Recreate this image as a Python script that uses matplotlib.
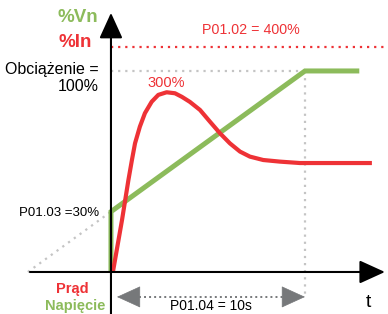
import matplotlib
matplotlib.use("Agg")
import matplotlib.pyplot as plt

# schematic units: x in seconds, y in % of load (100 = "Obciazenie = 100%")
ramp_t = [0, 0, 10, 12.8]
ramp_v = [0, 30, 100, 100]
start_level = 30
ramp_time = 10
limit_level = 112  # drawn position of the P01.02 = 400% line

current_t = [0.10, 0.57, 0.90, 1.08, 1.24, 1.49, 1.75, 2.10, 2.44, 2.87,
             3.30, 3.66, 4.07, 4.59, 5.10, 5.62, 6.13, 6.65, 7.16, 7.85,
             8.71, 9.74, 13.45]
current_v = [0, 25.9, 45.8, 55.7, 64.0, 72.3, 79.0, 84.7, 88.1, 89.4,
             88.9, 87.1, 84.6, 80.6, 74.8, 69.0, 64.0, 59.9, 57.4, 55.7,
             54.9, 54.2, 54.2]

RED = "#ee3236"
GREEN = "#8cbb5b"
GREY = "#c4c4c4"
DARK = "#76787a"

plt.rcParams["font.family"] = ["Liberation Sans", "DejaVu Sans"]

fig = plt.figure(figsize=(3.88, 3.14), dpi=100)
ax = fig.add_axes([0, 0, 1, 1])
ax.set_xlim(-5.72, 14.28)
ax.set_ylim(-20.9, 135.3)
ax.axis("off")

dots = (0, (1, 2.2))
# helper lines
ax.plot([0, 14.28], [limit_level, limit_level], color=RED, lw=1.6, ls=dots)
ax.plot([0, ramp_time], [100, 100], color=GREY, lw=1.6, ls=dots)
ax.plot([ramp_time, ramp_time], [100, -12.4], color=GREY, lw=1.6, ls=dots)
slope = (100 - start_level) / ramp_time
ax.plot([-start_level / slope, 0], [0, start_level], color=GREY, lw=1.6, ls=dots)

# axes with arrows
head = dict(arrowstyle="-|>,head_length=15.8,head_width=7.2", mutation_scale=1,
            color="black", lw=1.5, shrinkA=0, shrinkB=0)
ax.annotate("", xy=(14.12, 0), xytext=(-4.18, 0), arrowprops=head)
ax.annotate("", xy=(0, 128.9), xytext=(0, -21), arrowprops=head)

# curves
ax.plot(ramp_t, ramp_v, color=GREEN, lw=3.6, solid_capstyle="butt",
        solid_joinstyle="miter")
ax.plot(current_t, current_v, color=RED, lw=3.0, solid_capstyle="butt",
        solid_joinstyle="round")

# ramp time dimension
ax.plot([1.44, 8.87], [-12.4, -12.4], color=DARK, lw=1.4, ls=(0, (1, 1.6)))
tri = dict(arrowstyle="-|>,head_length=15.8,head_width=7.2", mutation_scale=1,
           color=DARK, lw=0.5, shrinkA=0, shrinkB=0)
ax.annotate("", xy=(0.31, -12.4), xytext=(1.44, -12.4), arrowprops=tri)
ax.annotate("", xy=(10.0, -12.4), xytext=(8.87, -12.4), arrowprops=tri)

# texts
ax.text(-1.70, 126.6, "%Vn", color=GREEN, fontsize=13.5, fontweight="bold",
        ha="center", va="center")
ax.text(-1.86, 114.2, "%In", color=RED, fontsize=13.5, fontweight="bold",
        ha="center", va="center")
ax.text(-0.62, 98.5, "Obciążenie =", fontsize=11.5, ha="right", va="baseline")
ax.text(-0.62, 90.2, "100%", fontsize=11.5, ha="right", va="baseline")
ax.text(2.84, 91.9, "300%", color=RED, fontsize=10.5, ha="center", va="baseline")
ax.text(7.22, 118.2, "P01.02 = 400%", color=RED, fontsize=10.3, ha="center",
        va="baseline")
ax.text(-0.62, 27.9, "P01.03 =30%", fontsize=9.5, ha="right", va="baseline")
ax.text(-1.97, -10.3, "Prąd", color=RED, fontsize=10.5, fontweight="bold",
        ha="center", va="baseline")
ax.text(-1.86, -18.9, "Napięcie", color=GREEN, fontsize=10.5, fontweight="bold",
        ha="center", va="baseline")
ax.text(5.15, -18.9, "P01.04 = 10s", fontsize=10, ha="center", va="baseline")
ax.text(13.25, -17.3, "t", fontsize=14, ha="center", va="baseline")

fig.savefig("out.png", dpi=100)
plt.close(fig)
